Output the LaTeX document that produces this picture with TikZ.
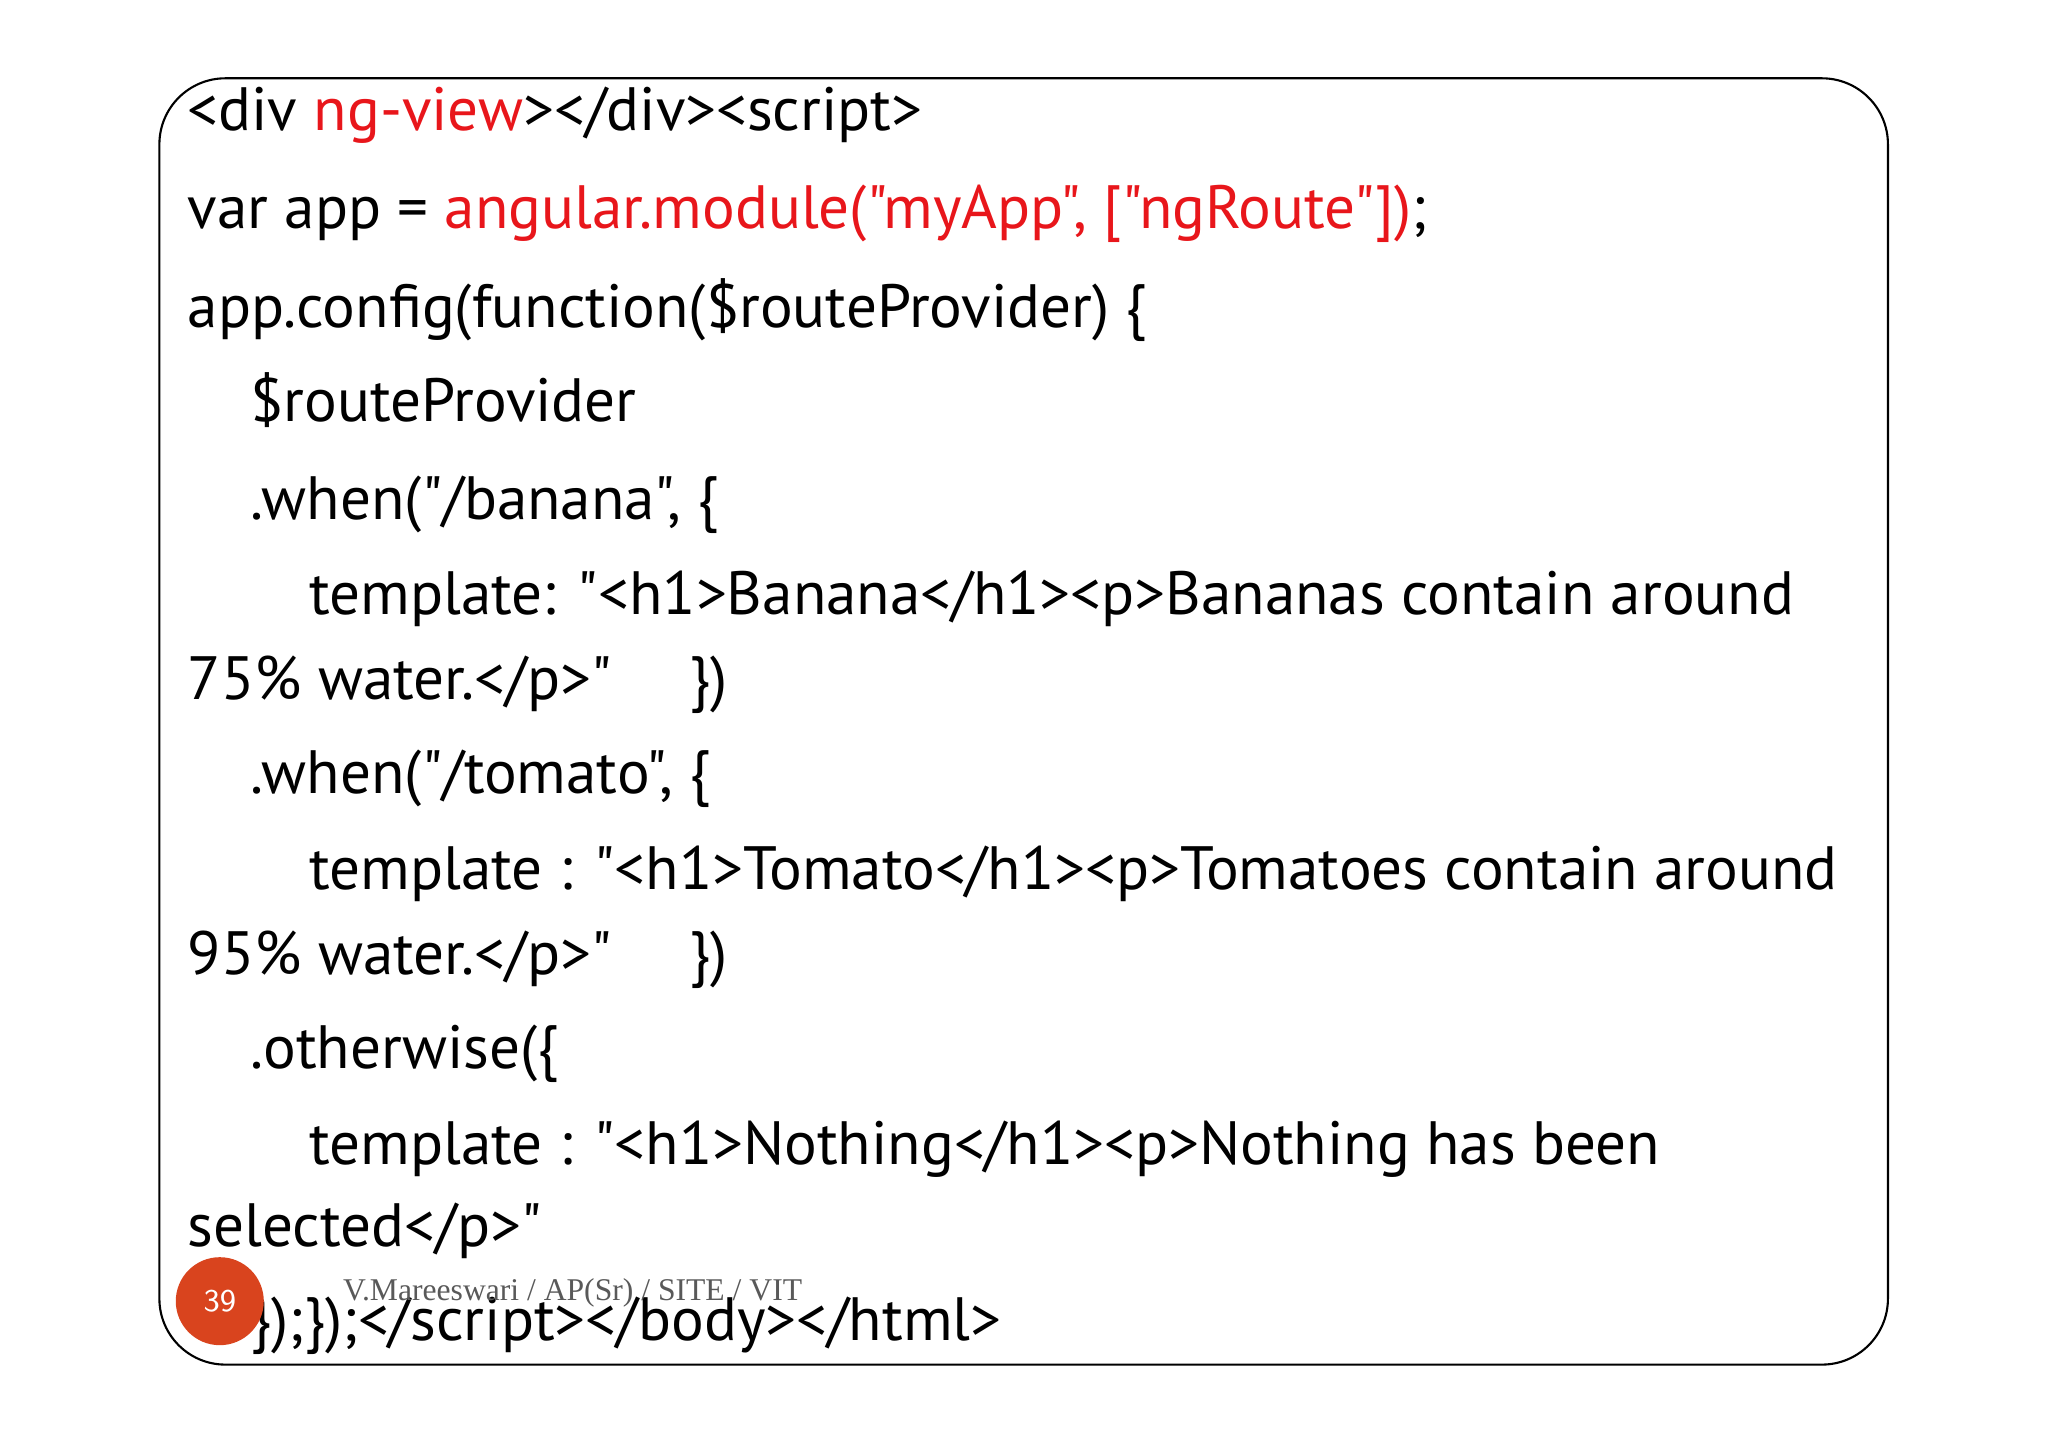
\documentclass[tikz,border=0pt]{standalone}
\usepackage{fontspec}
\setmainfont[Ligatures=TeXOff]{PT Sans}
\newfontfamily\footfont{Liberation Serif}
\definecolor{codered}{HTML}{E8161B}
\definecolor{badge}{HTML}{D9441E}
\newcommand\qq{\char34\relax}
\begin{document}
\begin{tikzpicture}[x=0.99cm,y=0.991cm,
  code/.style={anchor=base west,inner sep=0pt,font=\fontsize{17.4}{20}\selectfont}]
\useasboundingbox (0,0) rectangle (20.687,-14.602);
\draw[line width=0.6pt,rounded corners=0.66cm] (1.61,-0.79) rectangle (19.07,-13.77);
\node[code] (l1) at (1.89,-1.32) {<div \textcolor{codered}{ng-view}></div><script>};
\node[code] (l2) at (1.89,-2.31) {var app = \textcolor{codered}{angular.module(\qq myApp\qq, [\qq ngRoute\qq])};};
\node[code] (l3) at (1.89,-3.30) {app.config(function(\$routeProvider) \{};
\node[code] (l4) at (2.52,-4.25) {\$routeProvider};
\node[code] (l5) at (2.52,-5.24) {.when(\qq/banana\qq, \{};
\node[code] (l6) at (3.12,-6.20) {template: \qq<h1>Banana</h1><p>Bananas contain around};
\node[code] (l7) at (1.89,-7.06) {75\% water.</p>\qq\quad\ \})};
\node[code] (l8) at (2.52,-8.01) {.when(\qq/tomato\qq, \{};
\node[code] (l9) at (3.12,-8.98) {template : \qq<h1>Tomato</h1><p>Tomatoes contain around};
\node[code] (l10) at (1.89,-9.83) {95\% water.</p>\qq\quad\ \})};
\node[code] (l11) at (2.52,-10.78) {.otherwise(\{};
\node[code] (l12) at (3.12,-11.75) {template : \qq<h1>Nothing</h1><p>Nothing has been};
\node[code] (l13) at (1.89,-12.58) {selected</p>\qq};
\node[code] (l14) at (2.52,-13.53) {\});\});</script></body></html>};
\node[circle,fill=badge,minimum size=0.88cm,inner sep=0pt,text=white,font=\sffamily\small] (badge) at (2.22,-13.13) {39};
\node[anchor=base west,inner sep=0pt,text=black!65,font=\footfont\fontsize{9}{10}\selectfont] (foot) at (3.46,-13.12) {V.Mareeswari / AP(Sr) / SITE / VIT};
\end{tikzpicture}
\end{document}
